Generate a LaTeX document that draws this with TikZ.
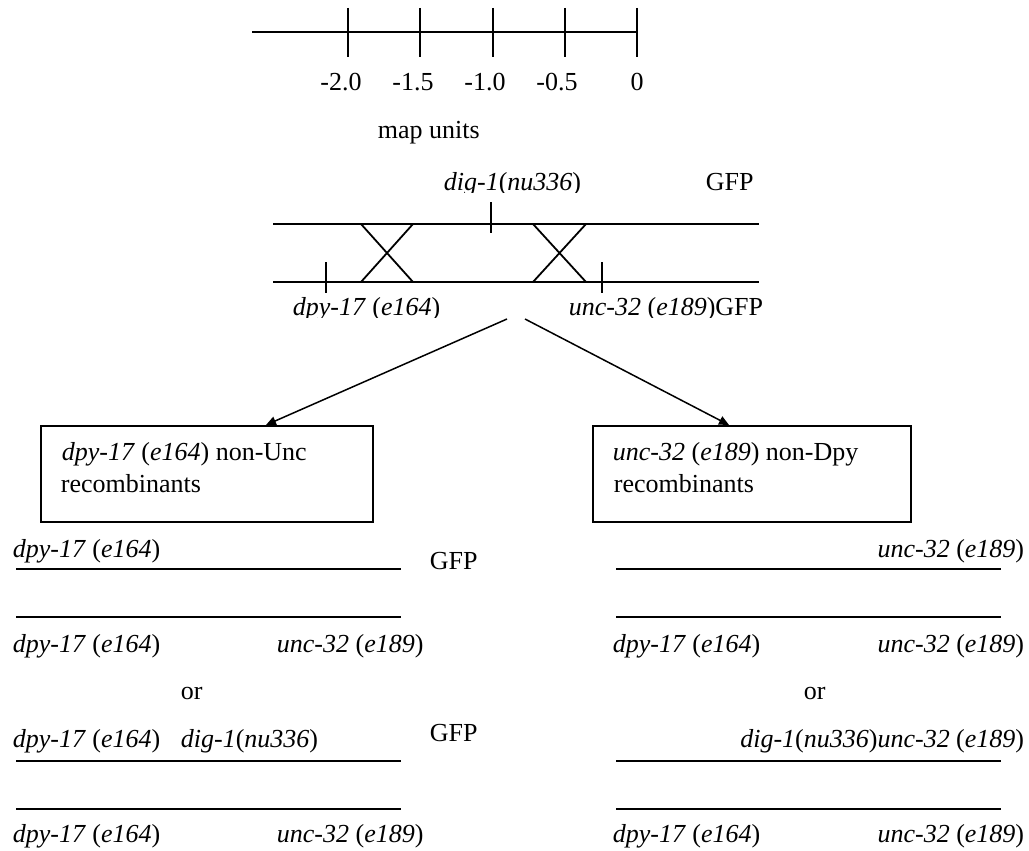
\documentclass[tikz,border=0pt]{standalone}
\usepackage{fontspec}
\setmainfont{Liberation Serif}
\usetikzlibrary{arrows.meta}
\newcommand\gDpy{\textit{dpy-17} (\textit{e164})}
\newcommand\gUnc{\textit{unc-32} (\textit{e189})}
\newcommand\gDig{\textit{dig-1}(\textit{nu336})}
\begin{document}
\begin{tikzpicture}[x=1pt,y=-1pt,line width=1.8pt,
  txt/.style={inner sep=0pt,font=\fontsize{26}{30}\selectfont},
  lt/.style={txt,anchor=base west},
  rt/.style={txt,anchor=base east},
  ct/.style={txt,anchor=base},
  boxed/.style={draw,inner sep=0pt,anchor=north west},
  arr/.style={-{Triangle[length=10pt,width=9pt]},line width=1.5pt}]
\useasboundingbox (0,0) rectangle (1029,851);
% scale
\draw (252,32) -- (637,32);
\foreach \x in {348,420,493,565,637} \draw (\x,8) -- (\x,57);
\node[ct] (s1) at (341,91) {-2.0};
\node[ct] (s2) at (413,91) {-1.5};
\node[ct] (s3) at (485,91) {-1.0};
\node[ct] (s4) at (557,91) {-0.5};
\node[ct] (s5) at (637,91) {0};
\node[lt] (mu) at (377,139) {map units};
% chromosomes
\draw (273,224) -- (759,224);
\draw (273,282) -- (759,282);
\draw (491,202) -- (491,233);
\draw (326,262) -- (326,293);
\draw (602,262) -- (602,293);
\draw (361,224) -- (413,282) (413,224) -- (361,282);
\draw (533,224) -- (586,282) (586,224) -- (533,282);
\begin{scope}
\clip (400,150) rectangle (600,192);
\node[lt] (dig) at (443,190) {\gDig};
\end{scope}
\node[lt] (gfp0) at (705,190) {GFP};
\begin{scope}
\clip (250,290) rectangle (800,317);
\node[lt] (dpyA) at (292,315) {\gDpy};
\node[lt] (uncA) at (568,315) {\gUnc GFP};
\end{scope}
% arrows
\coordinate (a1) at (507,319);
\coordinate (a2) at (525,319);
\coordinate (t1) at (266,425);
\coordinate (t2) at (729,425);
\draw[arr] (a1) -- (t1);
\draw[arr] (a2) -- (t2);
% boxes
\node[boxed,minimum width=332pt,minimum height=96pt] (lbox) at (40,425) {};
\node[boxed,minimum width=318pt,minimum height=96pt] (rbox) at (592,425) {};
\node[lt] (lb1) at (61,460) {\gDpy{} non-Unc};
\node[lt] (lb2) at (60,492) {recombinants};
\node[lt] (rb1) at (612,460) {\gUnc{} non-Dpy};
\node[lt] (rb2) at (613,492) {recombinants};
% left genotypes
\node[lt] (l1) at (12,557) {\gDpy};
\node[lt] (lg1) at (429,569) {GFP};
\draw (16,569) -- (401,569);
\draw (16,617) -- (401,617);
\node[lt] (l2a) at (12,652) {\gDpy};
\node[lt] (l2b) at (276,652) {\gUnc};
\node[lt] (lor) at (180,699) {or};
\node[lt] (l3a) at (12,747) {\gDpy};
\node[lt] (l3b) at (180,747) {\gDig};
\node[lt] (lg3) at (429,741) {GFP};
\draw (16,761) -- (401,761);
\draw (16,809) -- (401,809);
\node[lt] (l4a) at (12,842) {\gDpy};
\node[lt] (l4b) at (276,842) {\gUnc};
% right genotypes
\node[rt] (r1) at (1025,557) {\gUnc};
\draw (616,569) -- (1001,569);
\draw (616,617) -- (1001,617);
\node[lt] (r2a) at (612,652) {\gDpy};
\node[rt] (r2b) at (1025,652) {\gUnc};
\node[lt] (ror) at (803,699) {or};
\node[rt] (r3) at (1025,747) {\gDig\gUnc};
\draw (616,761) -- (1001,761);
\draw (616,809) -- (1001,809);
\node[lt] (r4a) at (612,842) {\gDpy};
\node[rt] (r4b) at (1025,842) {\gUnc};
\end{tikzpicture}
\end{document}
